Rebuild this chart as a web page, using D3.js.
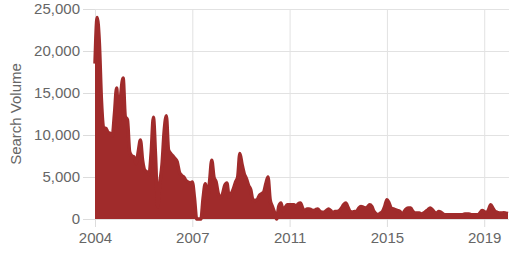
<!DOCTYPE html>
<html>
<head>
<meta charset="utf-8">
<script src="https://cdn.jsdelivr.net/npm/d3@7"></script>
<style>
    body { margin: 0; background: #fff; }
    svg { display: block; }
    .grid line { stroke: #e2e2e2; stroke-width: 1; }
    .grid .domain { display: none; }
    .axis text { fill: #666; font-family: Arial, "Liberation Sans", sans-serif; font-size: 15px; }
    .axis line { stroke: #dcdcdc; }
    .axis .domain { display: none; }
</style>
</head>
<body>
<svg id="chart" width="514" height="256"></svg>
<script>
    // Monthly search volume, Jan 2004 .. Dec 2019
    const startYear = 2004;
    const volume = [
        18500, 24000, 21000, 14000, 10800, 10800, 10300, 10200, 9900, 12500, 15600, 11000,
        15000, 16800, 12200, 11800, 8000, 7500, 7400, 6600, 8000, 9400, 7000, 5800,
        5600, 5300, 8000, 12100, 7500, 1500, 4300, 6500, 10500, 12300, 8200, 7800,
        7500, 7200, 6800, 5600, 5200, 5000, 4600, 4400, 4300, 4400, 2500, 0,
        0, 0, 2500, 4200, 2500, 4500, 7000, 5000, 4400, 3000, 2500, 3000,
        4000, 4300, 2600, 3000, 3600, 4400, 5000, 7800, 6500, 5400, 4800, 4000,
        3500, 2300, 2200, 2300, 2800, 3000, 3200, 4200, 5000, 2300, 1500, 800,
        0, 1500, 1900, 1000, 1400, 1700, 1700, 1700, 1700, 1500, 1800, 1900,
        1300, 900, 1200, 1200, 1100, 1000, 1100, 1200, 900, 800, 800, 1000,
        1200, 1000, 700, 900, 900, 1000, 1300, 1700, 1900, 1400, 900, 800,
        900, 900, 1300, 1500, 1400, 1300, 1400, 1700, 1500, 900, 600, 500,
        700, 900, 1500, 2300, 1900, 1300, 1200, 1100, 1000, 900, 500, 900,
        1200, 1300, 1300, 900, 700, 700, 700, 600, 700, 900, 1100, 1300,
        1100, 800, 700, 900, 800, 600, 500, 500, 500, 500, 500, 500,
        500, 500, 500, 600, 600, 600, 500, 500, 500, 500, 700, 1000,
        900, 700, 1100, 1700, 1300, 900, 800, 700, 700, 750, 700, 650
    ];
    const yTicks = [0, 5000, 10000, 15000, 20000, 25000];
    const tickEvery = 45; // a year label every 45 months

    const margin = { top: 9, right: 5, bottom: 37, left: 95 };
    const width = 514 - margin.left - margin.right;
    const height = 256 - margin.top - margin.bottom;

    const svg = d3.select("#chart");
    const g = svg.append("g").attr("transform", `translate(${margin.left},${margin.top})`);

    const idx = d3.range(volume.length);
    const x = d3.scaleLinear().domain([0, volume.length - 1]).range([0, width - 1]);
    const y = d3.scaleLinear().domain([0, 25000]).range([height, 0]);

    const xTickIdx = idx.filter((i) => i % tickEvery === 0);
    const yearOf = (i) => startYear + Math.floor(i / 12);

    // grid
    g.append("g")
        .attr("class", "grid y")
        .call(d3.axisLeft(y).tickValues(yTicks).tickFormat("").tickSize(-width));
    g.append("g")
        .attr("class", "grid x")
        .attr("transform", `translate(0,${height})`)
        .call(d3.axisBottom(x).tickValues(xTickIdx).tickFormat("").tickSize(height));
    g.select(".grid.x").selectAll("line").attr("y2", -height);

    // axes
    g.append("g")
        .attr("class", "axis y")
        .call(d3.axisLeft(y).tickValues(yTicks).tickFormat(d3.format(",")).tickSize(12).tickPadding(3));
    g.append("g")
        .attr("class", "axis x")
        .attr("transform", `translate(0,${height})`)
        .call(d3.axisBottom(x).tickValues(xTickIdx).tickFormat(yearOf).tickSize(8).tickPadding(5));

    // area + line
    const area = d3.area()
        .curve(d3.curveMonotoneX)
        .x((d, i) => x(i))
        .y0(y(0))
        .y1((d) => y(d));
    const line = d3.line()
        .curve(d3.curveMonotoneX)
        .x((d, i) => x(i))
        .y((d) => y(d));

    g.append("path").datum(volume).attr("d", area).attr("fill", "#a02b2b");
    g.append("path").datum(volume).attr("d", line)
        .attr("fill", "none")
        .attr("stroke", "#a02b2b")
        .attr("stroke-width", 3.5)
        .attr("stroke-linejoin", "round");

    // y title
    svg.append("text")
        .attr("transform", `translate(21,${margin.top + height / 2}) rotate(-90)`)
        .attr("text-anchor", "middle")
        .attr("fill", "#666")
        .style("font-family", "Arial, 'Liberation Sans', sans-serif")
        .style("font-size", "15px")
        .text("Search Volume");
</script>
</body>
</html>
